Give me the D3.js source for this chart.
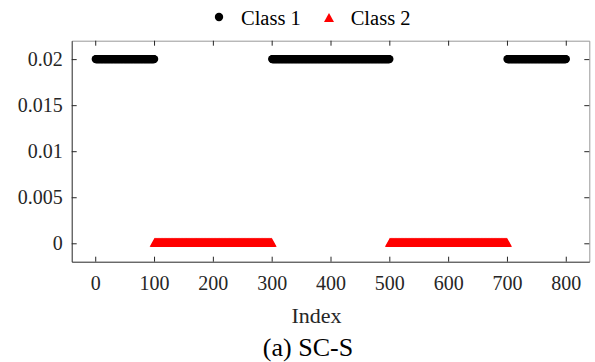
<!DOCTYPE html>
<html lang="en">
<head>
<meta charset="UTF-8">
<title>SC-S</title>
<script src="https://cdn.jsdelivr.net/npm/d3@7"></script>
<style>
    body { margin: 0; background: #fff; }
    svg { font-family: "Liberation Serif", "Times New Roman", serif; }
</style>
</head>
<body>
<svg id="chart" width="595" height="362"></svg>
<script>
    // index ranges of each class and the value they sit at
    let class1Ranges = [[1, 100], [301, 500], [701, 800]]
    let class1Value = 0.02
    let class2Ranges = [[101, 300], [501, 700]]
    let class2Value = 0

    let xTicks = [0, 100, 200, 300, 400, 500, 600, 700, 800]
    let yTicks = [0, 0.005, 0.01, 0.015, 0.02]
    let yTickLabels = ["0", "0.005", "0.01", "0.015", "0.02"]

    let plotLeft = 71.7, plotRight = 589.3, plotTop = 40.7, plotBottom = 261.7

    let svg = d3.select("#chart")

    let x = d3.scaleLinear().domain([-40, 840]).range([plotLeft, plotRight])
    let y = d3.scaleLinear().domain([-0.002, 0.022]).range([plotBottom, plotTop])

    function expand(ranges, value) {
        let pts = []
        for (let r of ranges) {
            for (let i = r[0]; i <= r[1]; i++) pts.push({i: i, v: value})
        }
        return pts
    }
    let class1 = expand(class1Ranges, class1Value)
    let class2 = expand(class2Ranges, class2Value)

    let tri = "M0,-5.6L5,3.4L-5,3.4Z"

    // frame: top and right in grey, with inward ticks
    let topAxis = svg.append("g").attr("transform", `translate(0,${plotTop})`)
        .call(d3.axisTop(x).tickValues(xTicks).tickSize(-5).tickSizeOuter(0).tickFormat(""))
    topAxis.select(".domain").attr("stroke", "#999")
    topAxis.selectAll(".tick line").attr("stroke", "#262626")

    let rightAxis = svg.append("g").attr("transform", `translate(${plotRight},0)`)
        .call(d3.axisRight(y).tickValues(yTicks).tickSize(-5).tickSizeOuter(0).tickFormat(""))
    rightAxis.select(".domain").attr("stroke", "#999")
    rightAxis.selectAll(".tick line").attr("stroke", "#262626")

    let xAxis = svg.append("g").attr("transform", `translate(0,${plotBottom})`)
        .call(d3.axisBottom(x).tickValues(xTicks).tickSize(-5).tickSizeOuter(0).tickPadding(14))
    let yAxis = svg.append("g").attr("transform", `translate(${plotLeft},0)`)
        .call(d3.axisLeft(y).tickValues(yTicks).tickSize(-5).tickSizeOuter(0).tickPadding(9)
            .tickFormat((d, i) => yTickLabels[i]))

    for (let ax of [xAxis, yAxis]) {
        ax.select(".domain").attr("stroke", "#262626")
        ax.selectAll(".tick line").attr("stroke", "#262626")
        ax.selectAll("text").attr("fill", "#262626")
            .style("font-family", "Liberation Serif").style("font-size", "20px")
    }

    // points
    svg.append("g").selectAll("circle").data(class1).join("circle")
        .attr("cx", d => x(d.i)).attr("cy", d => y(d.v)).attr("r", 4.2)
        .attr("fill", "#000")
    svg.append("g").selectAll("path").data(class2).join("path")
        .attr("d", tri)
        .attr("transform", d => `translate(${x(d.i)},${y(d.v)})`)
        .attr("fill", "#ff0000")

    // legend
    svg.append("circle").attr("cx", 219).attr("cy", 17).attr("r", 4.2).attr("fill", "#000")
    svg.append("text").attr("x", 241).attr("y", 25).text("Class 1")
        .style("font-size", "20.5px").attr("fill", "#000")
    svg.append("path").attr("d", tri).attr("transform", "translate(329,18.5)").attr("fill", "#ff0000")
    svg.append("text").attr("x", 350.7).attr("y", 25).text("Class 2")
        .style("font-size", "20.5px").attr("fill", "#000")

    // labels
    svg.append("text").attr("x", 316.5).attr("y", 322.5).attr("text-anchor", "middle")
        .text("Index").style("font-size", "22px").attr("fill", "#262626")
    svg.append("text").attr("x", 308).attr("y", 356).attr("text-anchor", "middle")
        .text("(a) SC-S").style("font-size", "26px").attr("fill", "#000")
</script>
</body>
</html>
